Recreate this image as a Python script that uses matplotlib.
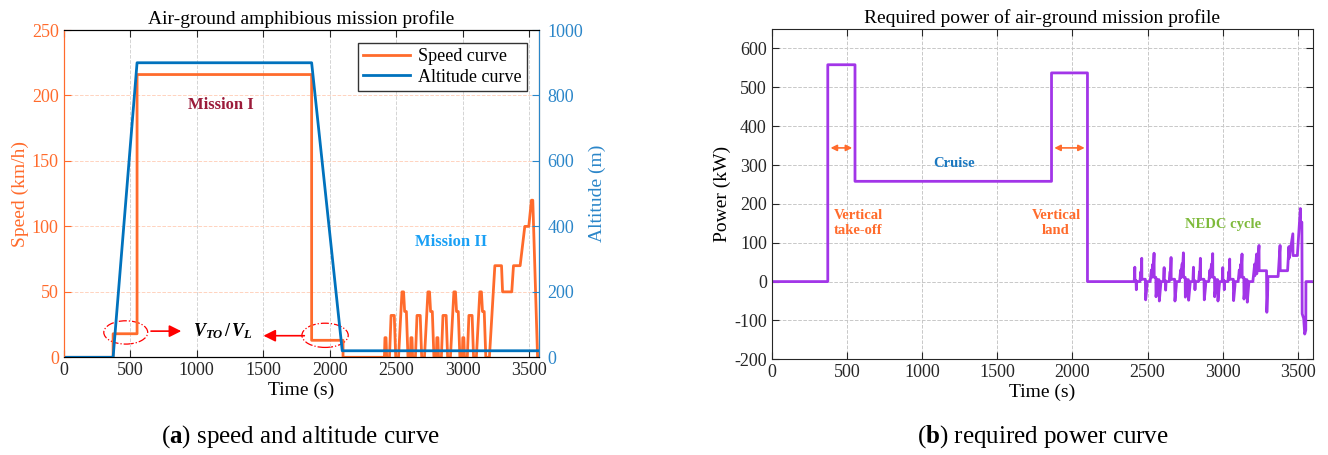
import numpy as np
import matplotlib.pyplot as plt
from matplotlib.patches import Ellipse

plt.rcParams['font.family'] = ['Liberation Serif', 'DejaVu Serif']
plt.rcParams['axes.unicode_minus'] = False
plt.rcParams['mathtext.fontset'] = 'custom'
plt.rcParams['mathtext.it'] = 'Liberation Serif:italic:bold'
plt.rcParams['mathtext.rm'] = 'Liberation Serif:bold'
plt.rcParams['mathtext.bf'] = 'Liberation Serif:bold'

# mission I: take-off, cruise and landing (time in s)
t_air = [0, 372, 372, 552, 552, 1864, 1864, 2100, 2100, 2400]
speed_air = [0, 0, 18, 18, 216, 216, 13, 13, 0, 0]
t_alt = [0, 372, 552, 1864, 2094, 3575]
altitude = [0, 0, 900, 900, 20, 20]

# mission II: NEDC road cycle (4 x ECE-15 + EUDC)
t_nedc = [2400, 2411, 2415, 2423, 2428, 2449, 2461, 2485, 2496, 2517, 2543, 2555, 2563, 2576, 2588,
          2606, 2610, 2618, 2623, 2644, 2656, 2680, 2691, 2712, 2738, 2750, 2758, 2771, 2783,
          2801, 2805, 2813, 2818, 2839, 2851, 2875, 2886, 2907, 2933, 2945, 2953, 2966, 2978,
          2996, 3000, 3008, 3013, 3034, 3046, 3070, 3081, 3102, 3128, 3140, 3148, 3161, 3173,
          3200, 3241, 3291, 3299, 3368, 3381, 3431, 3466, 3496, 3516, 3526, 3562, 3575]
speed_nedc = [0, 0, 15, 15, 0, 0, 32, 32, 0, 0, 50, 50, 35, 35, 0,
              0, 15, 15, 0, 0, 32, 32, 0, 0, 50, 50, 35, 35, 0,
              0, 15, 15, 0, 0, 32, 32, 0, 0, 50, 50, 35, 35, 0,
              0, 15, 15, 0, 0, 32, 32, 0, 0, 50, 50, 35, 35, 0,
              0, 70, 70, 50, 50, 70, 70, 100, 100, 120, 120, 0, 0]

# required power (kW)
t_pow_air = [0, 373, 373, 554, 554, 1861, 1861, 2100, 2100, 2400]
power_air = [0, 0, 558, 558, 258, 258, 537, 537, 0, 0]
t_pow_nedc = [2411, 2415, 2416, 2423, 2425, 2428, 2449, 2455, 2456, 2461, 2462, 2485, 2487, 2496, 2497,
              2517, 2525, 2526, 2535, 2536, 2543, 2544, 2555, 2556, 2562, 2564, 2576, 2578, 2588, 2589,
              2606, 2610, 2611, 2618, 2620, 2623, 2644, 2650, 2651, 2656, 2657, 2680, 2682, 2691, 2692,
              2712, 2720, 2721, 2730, 2731, 2738, 2739, 2750, 2751, 2757, 2759, 2771, 2773, 2783, 2784,
              2801, 2805, 2806, 2813, 2815, 2818, 2839, 2845, 2846, 2851, 2852, 2875, 2877, 2886, 2887,
              2907, 2915, 2916, 2925, 2926, 2933, 2934, 2945, 2946, 2952, 2954, 2966, 2968, 2978, 2979,
              2996, 3000, 3001, 3008, 3010, 3013, 3034, 3040, 3041, 3046, 3047, 3070, 3072, 3081, 3082,
              3102, 3110, 3111, 3120, 3121, 3128, 3129, 3140, 3141, 3147, 3149, 3161, 3163, 3173, 3174,
              3200, 3212, 3213, 3225, 3226, 3241, 3242, 3291, 3293, 3299, 3300, 3368, 3381, 3382, 3431,
              3440, 3441, 3466, 3467, 3496, 3516, 3517, 3526, 3528, 3538, 3545, 3552, 3553, 3590]
power_nedc = [0, 37, 3, 3, -21, 0, 0, 25, 5, 60, 6, 6, -47, -10, 0,
              0, 30, 10, 45, 15, 73, 11, 11, -39, -20, 5, 5, -50, -5, 0,
              0, 36, 3, 3, -22, 0, 0, 26, 5, 62, 6, 6, -50, -10, 0,
              0, 30, 10, 46, 15, 74, 11, 11, -40, -20, 5, 5, -48, -5, 0,
              0, 37, 3, 3, -21, 0, 0, 25, 5, 60, 6, 6, -47, -10, 0,
              0, 30, 10, 45, 15, 72, 11, 11, -39, -20, 5, 5, -50, -5, 0,
              0, 36, 3, 3, -21, 0, 0, 25, 5, 58, 6, 6, -49, -10, 0,
              0, 30, 10, 45, 15, 71, 11, 11, -45, -20, 5, 5, -53, -5, 0,
              0, 45, 15, 71, 20, 93, 28, 28, -79, -20, 13, 13, 93, 28, 28,
              90, 60, 123, 67, 67, 188, 153, 153, -83, -95, -135, -125, 0, 0]

c_speed = '#FF6B2C'
c_alt = '#0072BD'
c_alt_axis = '#2B86C9'
c_power = '#A235E8'

fig = plt.figure(figsize=(13.28, 4.55), dpi=100)

# (a) speed and altitude
ax1 = fig.add_axes([0.0479, 0.2147, 0.3582, 0.7193])
ax2 = ax1.twinx()
ax1.plot(t_air + t_nedc, speed_air + speed_nedc, color=c_speed, lw=2, label='Speed curve')
ax2.plot(t_alt, altitude, color=c_alt, lw=2, label='Altitude curve')
ax1.set_xlim(0, 3575)
ax1.set_ylim(0, 250)
ax2.set_ylim(0, 1000)
ax1.set_xticks(np.arange(0, 3501, 500))
ax1.set_yticks(np.arange(0, 251, 50))
ax2.set_yticks(np.arange(0, 1001, 200))
ax1.xaxis.grid(True, color='#d4d4d4', ls='--', lw=0.7)
ax1.yaxis.grid(True, color='#ffd3bf', ls='--', lw=0.7)
ax1.tick_params(axis='x', direction='in', top=True, length=5, labelsize=13, colors='#262626')
ax1.tick_params(axis='y', direction='in', length=5, labelsize=13, colors=c_speed)
ax2.tick_params(axis='y', direction='in', length=5, labelsize=13, colors=c_alt_axis, pad=6)
ax1.spines['left'].set_color(c_speed)
ax2.spines['left'].set_color(c_speed)
ax2.spines['right'].set_color(c_alt_axis)
ax1.set_xlabel('Time (s)', fontsize=14, labelpad=2)
ax1.set_ylabel('Speed (km/h)', fontsize=14, color=c_speed, labelpad=2)
ax2.set_ylabel('Altitude (m)', fontsize=14, color=c_alt_axis, labelpad=4)
ax1.set_title('Air-ground amphibious mission profile', fontsize=14, pad=4)
h1, l1 = ax1.get_legend_handles_labels()
h2, l2 = ax2.get_legend_handles_labels()
leg = ax2.legend(h1 + h2, l1 + l2, loc='upper right', fontsize=13, fancybox=False,
                 edgecolor='#333333', framealpha=1, handlelength=2.6, borderpad=0.3,
                 labelspacing=0.2, handletextpad=0.4, borderaxespad=0.7)
leg.get_frame().set_linewidth(1.0)

ax1.text(1183, 193, 'Mission I', color='#9B1B3A', fontsize=12, fontweight='bold',
         ha='center', va='center')
ax1.text(2909, 88, 'Mission II', color='#1AA0F5', fontsize=12, fontweight='bold',
         ha='center', va='center')
ax1.text(1199, 20, r'$V_{TO}\,/\,V_{L}$', fontsize=13, ha='center', va='center')
ax1.add_patch(Ellipse((467, 19), 330, 17.8, fill=False, ec='red', ls='-.', lw=0.9))
ax1.add_patch(Ellipse((1965, 16.8), 348, 18.5, fill=False, ec='red', ls='-.', lw=0.9))
ax1.annotate('', xy=(905, 20), xytext=(636, 20),
             arrowprops=dict(arrowstyle='-|>', color='red', lw=1.2, mutation_scale=18))
ax1.annotate('', xy=(1481, 16.5), xytext=(1830, 16.5),
             arrowprops=dict(arrowstyle='-|>', color='red', lw=1.2, mutation_scale=18))

# (b) required power
ax3 = fig.add_axes([0.5811, 0.2103, 0.4076, 0.7260])
ax3.plot(t_pow_air + t_pow_nedc, power_air + power_nedc, color=c_power, lw=2)
ax3.set_xlim(0, 3600)
ax3.set_ylim(-200, 650)
ax3.set_xticks(np.arange(0, 3501, 500))
ax3.set_yticks(np.arange(-200, 601, 100))
ax3.grid(True, color='#c8c8c8', ls='--', lw=0.7)
ax3.tick_params(direction='in', top=True, right=True, length=5, labelsize=13, colors='#262626')
for sp in ax3.spines.values():
    sp.set_color('#262626')
ax3.set_xlabel('Time (s)', fontsize=14, labelpad=2)
ax3.set_ylabel('Power (kW)', fontsize=14, labelpad=2)
ax3.set_title('Required power of air-ground mission profile', fontsize=14, pad=4)

ax3.text(1210, 304, 'Cruise', color='#1B78C0', fontsize=10.5, fontweight='bold',
         ha='center', va='center')
ax3.text(577, 151, 'Vertical\ntake-off', color='#FF6B2C', fontsize=10.5, fontweight='bold',
         ha='center', va='center', linespacing=1.2)
ax3.text(1891, 151, 'Vertical\nland', color='#FF6B2C', fontsize=10.5, fontweight='bold',
         ha='center', va='center', linespacing=1.2)
ax3.text(3004, 148, 'NEDC cycle', color='#7EBA3B', fontsize=10.5, fontweight='bold',
         ha='center', va='center')
ax3.annotate('', xy=(554, 344), xytext=(373, 344),
             arrowprops=dict(arrowstyle='<|-|>', color='#FF6B2C', lw=1.2, mutation_scale=9))
ax3.annotate('', xy=(2100, 344), xytext=(1861, 344),
             arrowprops=dict(arrowstyle='<|-|>', color='#FF6B2C', lw=1.2, mutation_scale=9))

fig.text(0.226, 0.04, r'($\mathbf{a}$) speed and altitude curve', fontsize=18,
         ha='center', va='center')
fig.text(0.785, 0.04, r'($\mathbf{b}$) required power curve', fontsize=18,
         ha='center', va='center')

fig.savefig('out.png', dpi=100)
